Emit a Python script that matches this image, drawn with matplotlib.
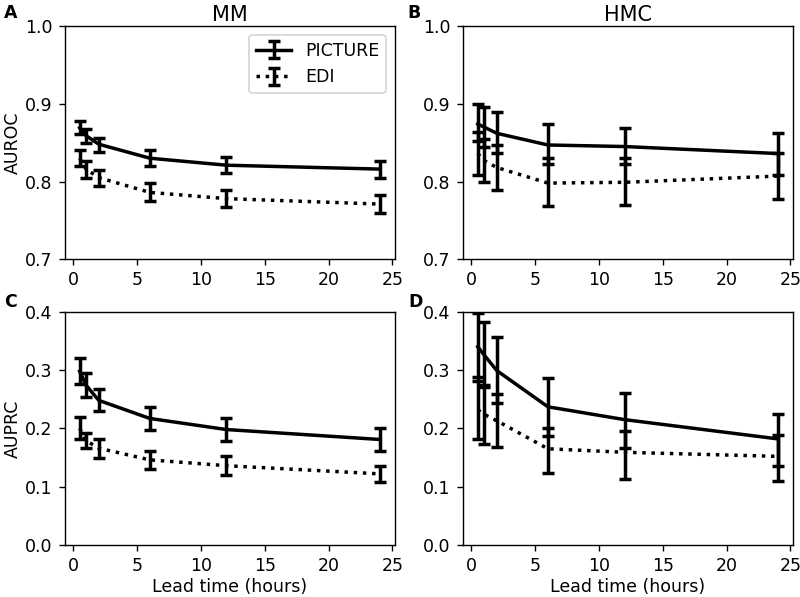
import matplotlib
matplotlib.use("Agg")
import matplotlib.pyplot as plt
import numpy as np

lead_time = [0.5, 1, 2, 6, 12, 24]
series_names = ["PICTURE", "EDI"]
col_titles = ["MM", "HMC"]
row_labels = ["AUROC", "AUPRC"]
panel_letters = ["A", "B", "C", "D"]

# MM AUROC
mm_auroc_pic = [0.869, 0.859, 0.848, 0.830, 0.821, 0.816]
mm_auroc_pic_lo = [0.861, 0.850, 0.838, 0.820, 0.811, 0.805]
mm_auroc_pic_hi = [0.878, 0.867, 0.856, 0.840, 0.832, 0.826]
mm_auroc_edi = [0.830, 0.816, 0.805, 0.786, 0.778, 0.771]
mm_auroc_edi_lo = [0.820, 0.805, 0.794, 0.775, 0.767, 0.759]
mm_auroc_edi_hi = [0.841, 0.827, 0.815, 0.798, 0.789, 0.783]

# HMC AUROC
hmc_auroc_pic = [0.874, 0.870, 0.862, 0.847, 0.845, 0.836]
hmc_auroc_pic_lo = [0.852, 0.845, 0.837, 0.822, 0.822, 0.808]
hmc_auroc_pic_hi = [0.900, 0.896, 0.889, 0.874, 0.869, 0.863]
hmc_auroc_edi = [0.836, 0.827, 0.818, 0.798, 0.799, 0.807]
hmc_auroc_edi_lo = [0.809, 0.799, 0.789, 0.769, 0.770, 0.777]
hmc_auroc_edi_hi = [0.864, 0.855, 0.847, 0.830, 0.830, 0.837]

# MM AUPRC
mm_auprc_pic = [0.298, 0.274, 0.248, 0.217, 0.198, 0.181]
mm_auprc_pic_lo = [0.276, 0.253, 0.230, 0.197, 0.179, 0.162]
mm_auprc_pic_hi = [0.320, 0.295, 0.267, 0.237, 0.217, 0.200]
mm_auprc_edi = [0.200, 0.179, 0.166, 0.146, 0.136, 0.122]
mm_auprc_edi_lo = [0.182, 0.166, 0.150, 0.131, 0.120, 0.108]
mm_auprc_edi_hi = [0.220, 0.192, 0.181, 0.161, 0.152, 0.135]

# HMC AUPRC
hmc_auprc_pic = [0.340, 0.326, 0.299, 0.237, 0.215, 0.182]
hmc_auprc_pic_lo = [0.281, 0.271, 0.243, 0.187, 0.167, 0.135]
hmc_auprc_pic_hi = [0.398, 0.383, 0.356, 0.286, 0.260, 0.224]
hmc_auprc_edi = [0.232, 0.224, 0.213, 0.165, 0.159, 0.152]
hmc_auprc_edi_lo = [0.181, 0.174, 0.168, 0.124, 0.113, 0.110]
hmc_auprc_edi_hi = [0.288, 0.274, 0.259, 0.201, 0.196, 0.188]

panels = [
    [(mm_auroc_pic, mm_auroc_pic_lo, mm_auroc_pic_hi), (mm_auroc_edi, mm_auroc_edi_lo, mm_auroc_edi_hi)],
    [(hmc_auroc_pic, hmc_auroc_pic_lo, hmc_auroc_pic_hi), (hmc_auroc_edi, hmc_auroc_edi_lo, hmc_auroc_edi_hi)],
    [(mm_auprc_pic, mm_auprc_pic_lo, mm_auprc_pic_hi), (mm_auprc_edi, mm_auprc_edi_lo, mm_auprc_edi_hi)],
    [(hmc_auprc_pic, hmc_auprc_pic_lo, hmc_auprc_pic_hi), (hmc_auprc_edi, hmc_auprc_edi_lo, hmc_auprc_edi_hi)],
]
ylims = [(0.7, 1.0), (0.7, 1.0), (0.0, 0.4), (0.0, 0.4)]
yticks = [[0.7, 0.8, 0.9, 1.0], [0.7, 0.8, 0.9, 1.0], [0.0, 0.1, 0.2, 0.3, 0.4], [0.0, 0.1, 0.2, 0.3, 0.4]]

fig = plt.figure(figsize=(6.4, 4.776), dpi=125)
lefts = [0.0808, 0.5784]
bottoms = [0.5657, 0.0871]
w, h = 0.4125, 0.3907
letter_pos = [(0.005, 0.9693), (0.509, 0.9693), (0.005, 0.4853), (0.510, 0.4862)]
styles = ["-", ":"]

for i in range(4):
    r, c = divmod(i, 2)
    ax = fig.add_axes([lefts[c], bottoms[r], w, h])
    for s, (mean, lo, hi) in enumerate(panels[i]):
        mean = np.array(mean); lo = np.array(lo); hi = np.array(hi)
        ax.errorbar(lead_time, mean, yerr=[mean - lo, hi - mean], color="black",
                    linestyle=styles[s], linewidth=2, elinewidth=2, capsize=3.5,
                    capthick=2, label=series_names[s])
    ax.set_ylim(*ylims[i])
    ax.set_yticks(yticks[i])
    ax.set_xticks([0, 5, 10, 15, 20, 25])
    if r == 0:
        ax.set_title(col_titles[c], fontsize=12, pad=3)
    else:
        ax.set_xlabel("Lead time (hours)", labelpad=1.5)
    if c == 0:
        ax.set_ylabel(row_labels[r], labelpad=2)
    if i == 0:
        ax.legend(loc="upper right")
    fig.text(letter_pos[i][0], letter_pos[i][1], panel_letters[i], fontsize=10,
             fontweight="bold", va="baseline", ha="left")

fig.savefig("out.png", dpi=125)
